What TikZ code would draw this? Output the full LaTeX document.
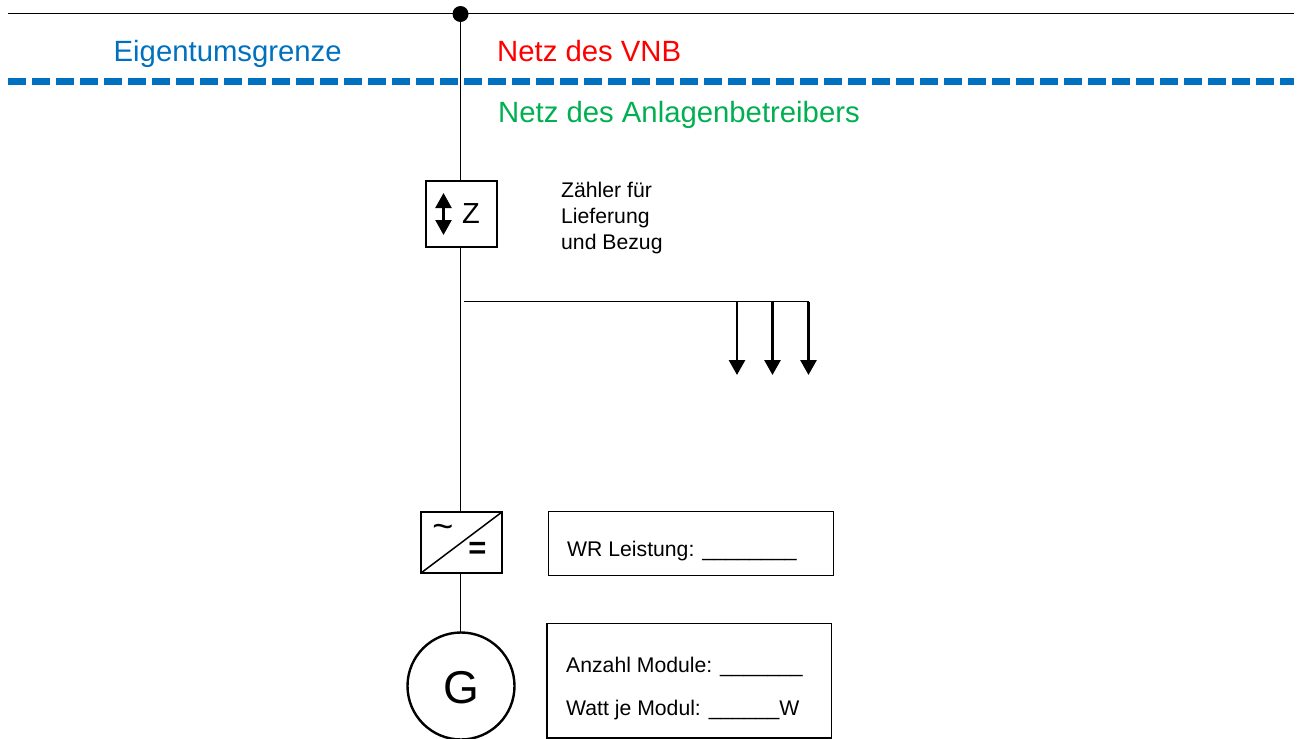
\documentclass[tikz,border=0pt]{standalone}
\usepackage{fontspec}
\setmainfont{Liberation Sans}
\usetikzlibrary{arrows.meta}
\definecolor{grenzblau}{RGB}{0,112,192}
\definecolor{netzrot}{RGB}{255,0,0}
\definecolor{netzgruen}{RGB}{0,176,80}
\tikzset{
  wire/.style={draw=black,line width=1.6pt},
  symbolbox/.style={draw=black,line width=2.8pt,fill=white,minimum width=#1,inner sep=0pt,outer sep=0pt},
  infobox/.style={draw=black,line width=1.3pt,anchor=north west,inner sep=0pt,outer sep=0pt},
  label29/.style={anchor=base west,inner sep=0pt,font=\fontsize{29.3}{34}\selectfont},
  label21/.style={anchor=base west,inner sep=0pt,font=\fontsize{21.2}{26}\selectfont},
  loadarrow/.style={draw=black,line width=2.8pt,-{Triangle[length=15pt,width=16pt]}},
  meterarrow/.style={draw=black,line width=2.4pt,{Triangle[length=15pt,width=16pt]}-{Triangle[length=15pt,width=16pt]}},
}
\begin{document}
\begin{tikzpicture}[x=1pt,y=-1pt]
\useasboundingbox (0,0) rectangle (1302,739);
% free ends
\coordinate (busL) at (8,13.5);
\coordinate (busR) at (1294,13.5);
\coordinate (limL) at (8,81.5);
\coordinate (limR) at (1294,81.5);
\coordinate (branchL) at (464,301.5);
\coordinate (tapA) at (737,301.5);
\coordinate (tapB) at (772.5,301.5);
\coordinate (tapC) at (808.5,301.5);
\coordinate (endA) at (737,375);
\coordinate (endB) at (772.5,375);
\coordinate (endC) at (808.5,375);
\coordinate (mTop) at (443.5,193);
\coordinate (mBot) at (443.5,235);
% symbols
\node[circle,fill=black,minimum size=16pt,inner sep=0pt,outer sep=0pt] (dot) at (460.5,14) {};
\node[symbolbox=71pt,minimum height=66pt] (meter) at (461.5,214) {};
\node[symbolbox=81pt,minimum height=61pt] (inv) at (461.5,542.5) {};
\node[draw=black,line width=2.4pt,circle,minimum size=107pt,inner sep=0pt,outer sep=0pt] (gen) at (461,686) {};
% connectors
\draw[wire] (busL) -- (busR);
\draw[grenzblau,line width=6.5pt,dash pattern=on 18pt off 6pt] (limL) -- (limR);
\draw[wire] (dot.center) -- (meter.north -| dot.center);
\draw[wire] (meter.south -| dot.center) -- (inv.north -| dot.center);
\draw[wire] (inv.south -| dot.center) -- (gen.north -| dot.center);
\draw[wire] (branchL) -- (tapC);
\draw[loadarrow] (tapA) -- (endA);
\draw[loadarrow] (tapB) -- (endB);
\draw[loadarrow] (tapC) -- (endC);
\draw[meterarrow] (mTop) -- (mBot);
\draw[line width=1.5pt] (inv.south west) -- (inv.north east);
% symbol text
\node[anchor=center,inner sep=0pt,font=\fontsize{29}{34}\selectfont] (zlabel) at (471,214) {Z};
\node[anchor=center,inner sep=0pt,font=\fontsize{46}{50}\selectfont] (glabel) at (461,688) {G};
\node[anchor=center,inner sep=0pt,font=\fontsize{36}{36}\selectfont] (ac) at (443,531) {\char"007E};
\node[anchor=center,inner sep=0pt,font=\bfseries\fontsize{31}{31}\selectfont] (dc) at (477.5,550) {=};
% texts
\node[label29,text=grenzblau] (eigen) at (113.5,61) {Eigentumsgrenze};
\node[label29,text=netzrot] (vnb) at (497,61) {Netz des VNB};
\node[label29,text=netzgruen] (anl) at (498,122.5) {Netz des Anlagenbetreibers};
\node[label21] (z1) at (561,197) {Zähler für};
\node[label21] (z2) at (561,223) {Lieferung};
\node[label21] (z3) at (561,249) {und Bezug};
% info boxes
\node[infobox,minimum width=285pt,minimum height=64pt] (wrbox) at (548.5,511.5) {};
\node[infobox,minimum width=284.5pt,minimum height=114.5pt] (modbox) at (547,623.5) {};
\node[label21] (wr) at (567,556) {WR Leistung: \_\_\_\_\_\_\_\_};
\node[label21] (anz) at (566,672) {Anzahl Module: \_\_\_\_\_\_\_};
\node[label21] (watt) at (566,715.5) {Watt je Modul: \_\_\_\_\_\_W};
\end{tikzpicture}
\end{document}
